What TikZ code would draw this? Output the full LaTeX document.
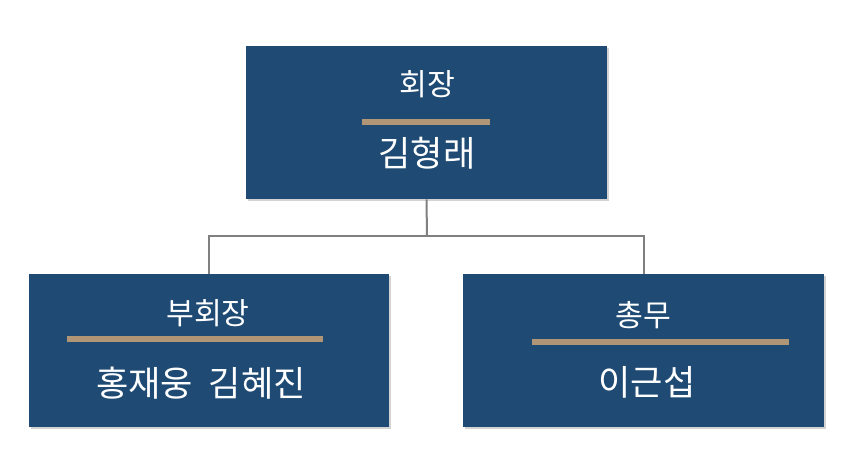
\documentclass[tikz,border=0pt]{standalone}
\usepackage{fontspec}
\newfontfamily\kor{Noto Sans CJK KR}
\usetikzlibrary{shadows}
\definecolor{boxnavy}{RGB}{30,74,115}
\definecolor{ruletan}{RGB}{176,150,118}
\begin{document}
\begin{tikzpicture}[x=.25mm,y=-.25mm,
        post/.style={fill=boxnavy,minimum width=90mm,minimum height=38.25mm,inner sep=0pt,
            drop shadow={shadow xshift=.5mm,shadow yshift=-.5mm,opacity=.35}},
        title/.style={text=white,font=\kor\fontsize{21.5}{24}\selectfont},
        person/.style={text=white,font=\kor\fontsize{25}{28}\selectfont},
        rule/.style={draw=ruletan,line width=1.4mm},
        link/.style={draw=gray,line width=.5mm}]
    \useasboundingbox (0,0) rectangle (852,458);
    % boxes
    \node[post] (chair) at (426.5,122.5) {};
    \node[post] (vice) at (209,350.5) {};
    \node[post] (sec) at (643.5,350.5) {};
    % connectors
    \coordinate (bus) at (427,236);
    \draw[link] (chair.south) -- (bus);
    \draw[link] (vice.north) |- (bus) -| (sec.north);
    % titles and names
    \node[title] (chairtitle) at (427,84) {회장};
    \draw[rule] (362,122) -- (490,122);
    \node[person] (chairname) at (427,153) {김형래};
    \node[title] (vicetitle) at (208,313) {부회장};
    \draw[rule] (67,339) -- (323,339);
    \node[person] (vicename) at (201,383) {홍재웅\ \ 김혜진};
    \node[title] (sectitle) at (643,315) {총무};
    \draw[rule] (532,342) -- (789,342);
    \node[person] (secname) at (647,382) {이근섭};
\end{tikzpicture}
\end{document}
